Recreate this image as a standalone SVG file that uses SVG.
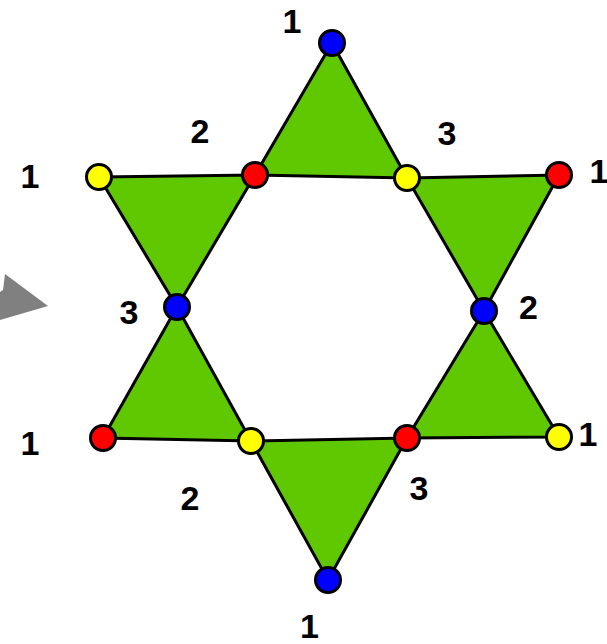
<svg xmlns="http://www.w3.org/2000/svg" width="607" height="644" viewBox="0 0 607 644">
<style>
.tri{fill:#5fc800;stroke:#000;stroke-width:3;stroke-linejoin:miter}
.n{stroke:#000;stroke-width:3}
.b{fill:#0000ff}.r{fill:#ff0000}.y{fill:#ffff00}
.lbl{font-family:"Liberation Sans",Arial,sans-serif;font-weight:bold;font-size:34px;fill:#000;text-anchor:middle}
</style>
<rect width="607" height="644" fill="#fff"/>
<polygon id="arrow" points="5,274 48,306 0,320 0,292 3,290" fill="#808080"/>
<g id="connectors">
<polygon class="tri" points="332,43 255,175 407,178"/>
<polygon class="tri" points="99,177 255,175 177,307"/>
<polygon class="tri" points="407,178 559,175 484,311"/>
<polygon class="tri" points="177,307 103,438 251,441"/>
<polygon class="tri" points="484,311 407,438 559,437"/>
<polygon class="tri" points="251,441 407,438 328,580"/>
</g>
<g id="n-top"><circle class="n b" cx="332" cy="43" r="12.5"/></g>
<g id="n-ul-red"><circle class="n r" cx="255" cy="175" r="12.5"/></g>
<g id="n-ur-yellow"><circle class="n y" cx="407" cy="178" r="12.5"/></g>
<g id="n-left-yellow"><circle class="n y" cx="99" cy="177" r="12.5"/></g>
<g id="n-right-red"><circle class="n r" cx="559" cy="175" r="12.5"/></g>
<g id="n-left-blue"><circle class="n b" cx="177" cy="307" r="12.5"/></g>
<g id="n-right-blue"><circle class="n b" cx="484" cy="311" r="12.5"/></g>
<g id="n-bl-red"><circle class="n r" cx="103" cy="438" r="12.5"/></g>
<g id="n-bl-yellow"><circle class="n y" cx="251" cy="441" r="12.5"/></g>
<g id="n-br-red"><circle class="n r" cx="407" cy="438" r="12.5"/></g>
<g id="n-br-yellow"><circle class="n y" cx="559" cy="437" r="12.5"/></g>
<g id="n-bottom"><circle class="n b" cx="328" cy="580" r="12.5"/></g>
<g id="labels">
<text class="lbl" x="292" y="33">1</text>
<text class="lbl" x="200" y="143">2</text>
<text class="lbl" x="447" y="145">3</text>
<text class="lbl" x="30" y="188">1</text>
<text class="lbl" x="599" y="183">1</text>
<text class="lbl" x="129" y="324">3</text>
<text class="lbl" x="528.5" y="319">2</text>
<text class="lbl" x="30" y="455">1</text>
<text class="lbl" x="588" y="446">1</text>
<text class="lbl" x="190" y="510">2</text>
<text class="lbl" x="419" y="500">3</text>
<text class="lbl" x="309.5" y="638">1</text>
</g>
</svg>
